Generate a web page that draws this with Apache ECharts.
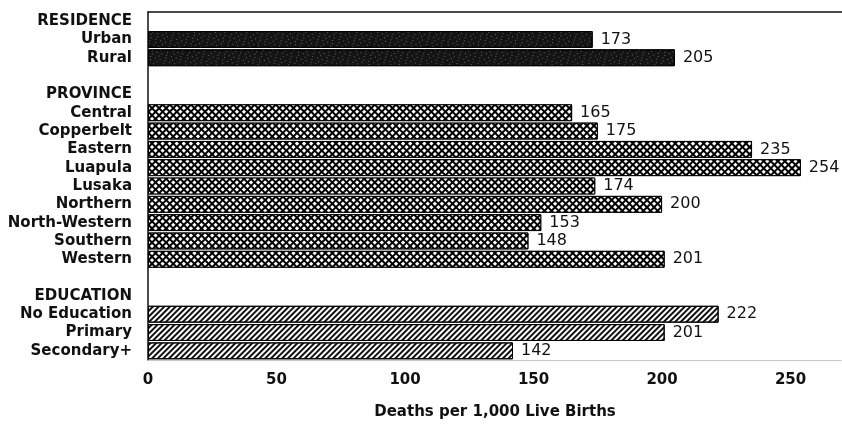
<!DOCTYPE html>
<html>
<head>
<meta charset="utf-8">
<script src="https://cdn.jsdelivr.net/npm/echarts@6/dist/echarts.min.js"></script>
<style>
html,body{margin:0;padding:0;background:#fff;}
#chart{width:842px;height:424px;}
</style>
</head>
<body>
<div id="chart"></div>
<script>
// ---- data ----
const categories = [
  'RESIDENCE', 'Urban', 'Rural', ' ',
  'PROVINCE', 'Central', 'Copperbelt', 'Eastern', 'Luapula', 'Lusaka',
  'Northern', 'North-Western', 'Southern', 'Western', '  ',
  'EDUCATION', 'No Education', 'Primary', 'Secondary+'
];
const residenceValues = [173, 205];
const provinceValues = [165, 175, 235, 254, 174, 200, 153, 148, 201];
const educationValues = [222, 201, 142];
const xTicks = [0, 50, 100, 150, 200, 250];
const axisTitle = 'Deaths per 1,000 Live Births';

// ---- styles ----
const FONT = 'DejaVu Sans';
const styleResidence = {
  color: '#141414', borderColor: '#000', borderWidth: 1,
  decal: { symbol: 'rect', color: 'rgba(255,255,255,0.35)', dashArrayX: [[1, 4], [1, 6]], dashArrayY: [1, 2], rotation: 0.3, symbolSize: 1 }
};
const styleProvince = {
  color: '#000', borderColor: '#000', borderWidth: 1,
  decal: { symbol: 'rect', color: '#ffffff', dashArrayX: [3, 1.3], dashArrayY: [3, 1.3], rotation: Math.PI / 4, symbolSize: 1 }
};
const styleEducation = {
  color: '#ffffff', borderColor: '#000', borderWidth: 1,
  decal: { symbol: 'rect', color: '#111', dashArrayX: [1, 0], dashArrayY: [1.4, 1.6], rotation: -Math.PI / 4, symbolSize: 1 }
};

const seriesData = [];
seriesData.push({ value: null });
residenceValues.forEach(v => seriesData.push({ value: v, itemStyle: styleResidence }));
seriesData.push({ value: null });
seriesData.push({ value: null });
provinceValues.forEach(v => seriesData.push({ value: v, itemStyle: styleProvince }));
seriesData.push({ value: null });
seriesData.push({ value: null });
educationValues.forEach(v => seriesData.push({ value: v, itemStyle: styleEducation }));

const chart = echarts.init(document.getElementById('chart'), null, { renderer: 'canvas' });
chart.setOption({
  animation: false,
  backgroundColor: '#fff',
  grid: { left: 148, right: 0, top: 12, bottom: 64, containLabel: false, outerBoundsMode: 'none' },
  xAxis: [{
    type: 'value', position: 'bottom', min: xTicks[0], max: 270, interval: 50,
    axisLine: { show: true, lineStyle: { color: '#bbb', type: 'dotted', width: 1 } },
    axisTick: { show: false },
    splitLine: { show: false },
    axisLabel: {
      margin: 13, fontFamily: FONT, fontWeight: 'bold', fontSize: 15, color: '#111',
      formatter: v => xTicks.indexOf(v) >= 0 ? String(v) : ''
    },
    name: axisTitle, nameLocation: 'middle', nameGap: 45,
    nameTextStyle: { fontFamily: FONT, fontWeight: 'bold', fontSize: 15, color: '#111' }
  }, {
    type: 'value', position: 'top', min: 0, max: 270, interval: 50,
    axisLine: { show: true, lineStyle: { color: '#111', width: 1.5 } },
    axisTick: { show: false }, splitLine: { show: false }, axisLabel: { show: false }
  }],
  yAxis: {
    type: 'category', data: categories, inverse: true,
    axisLine: { show: true, lineStyle: { color: '#111', width: 1.5 } },
    axisTick: { show: false },
    axisLabel: {
      interval: 0, margin: 16, fontFamily: FONT, fontWeight: 'bold', fontSize: 15, color: '#111'
    }
  },
  series: [{
    type: 'bar', xAxisIndex: 0,
    barCategoryGap: '8%',
    data: seriesData,
    label: {
      show: true, position: 'right', distance: 8,
      fontFamily: FONT, fontSize: 16, color: '#111',
      formatter: p => (p.value == null ? '' : String(p.value))
    }
  }]
});
</script>
</body>
</html>
